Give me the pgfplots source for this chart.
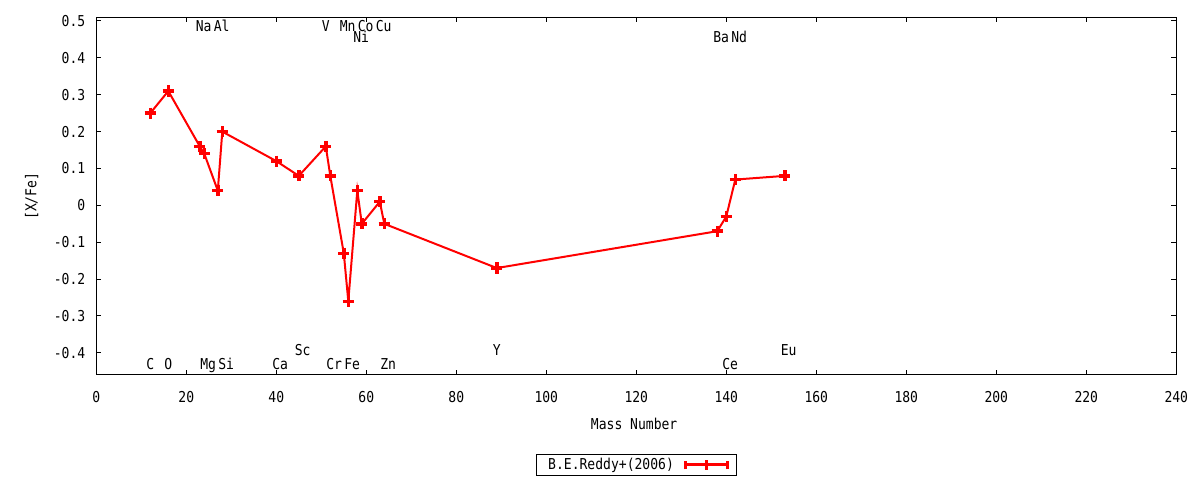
\documentclass[border=0pt]{standalone}
\usepackage{fontspec}
\setmainfont{DejaVu Sans Mono}[FakeStretch=0.87]
\usepackage{pgfplots}
\pgfplotsset{compat=1.18}

\tikzset{
  lbl/.style={anchor=base west, inner sep=0pt, xshift=-2.2pt},
}

\begin{document}
\begin{tikzpicture}[font=\fontsize{7.5}{9}\selectfont]
\useasboundingbox (0,0) rectangle (600pt,240pt);
\begin{axis}[
  at={(48.15pt,52.5pt)}, anchor=south west,
  scale only axis,
  width=540pt, height=178.85pt,
  xmin=0, xmax=240, ymin=-0.46, ymax=0.51,
  xtick={0,20,...,240},
  ytick={-0.4,-0.3,-0.2,-0.1,0,0.1,0.2,0.3,0.4,0.5},
  axis line style={line width=0.5pt},
  every tick/.style={black, line width=0.5pt},
  major tick length=2.5pt,
  tick align=inside,
  /pgf/number format/assume math mode=true,
  /pgf/number format/fixed,
  /pgf/number format/precision=1,
  xticklabel style={yshift=-4.75pt},
  yticklabel style={xshift=-2pt},
  xlabel={Mass Number},
  ylabel={[X/Fe]},
  xlabel style={at={(axis description cs:0.498,0)}, anchor=center, yshift=-24.7pt},
  ylabel style={at={(axis description cs:0,0.5)}, anchor=center, yshift=32.3pt},
  legend plot pos=right,
  legend style={at={(axis description cs:0.5,-0.2516)}, anchor=center,
    draw=black, line width=0.5pt, inner xsep=3.5pt, inner ysep=0.5pt,
    nodes={inner sep=1pt}},
  legend image code/.code={
    \path (0pt,0pt);
    \draw[line width=1.5pt] (4.5pt,0pt) -- (25.5pt,0pt);
    \draw[line width=1.5pt] (4.5pt,-2.2pt) -- (4.5pt,2.2pt);
    \draw[line width=1.5pt] (25.5pt,-2.2pt) -- (25.5pt,2.2pt);
    \draw[line width=1.5pt] (15pt,-2.5pt) -- (15pt,2.5pt);
  },
  clip=false,
]
\addplot[red, line width=1pt, mark=+, mark size=2.8pt,
  mark options={line width=1.7pt, solid}] coordinates {
  (12,0.25) (16,0.31) (23,0.16) (24,0.14) (27,0.04) (28,0.20)
  (40,0.12) (45,0.08) (51,0.16) (52,0.08) (55,-0.13) (56,-0.26)
  (58,0.04) (59,-0.05) (63,0.01) (64,-0.05) (89,-0.17)
  (138,-0.07) (140,-0.03) (142,0.07) (153,0.08)
};
\addlegendentry{\hspace{1.5pt}B.E.Reddy+(2006)}

% element names
\node[lbl] at (axis cs:23,0.4707) {Na};
\node[lbl] at (axis cs:27,0.4707) {Al};
\node[lbl] at (axis cs:51,0.4707) {V};
\node[lbl] at (axis cs:55,0.4707) {Mn};
\node[lbl] at (axis cs:59,0.4707) {Co};
\node[lbl] at (axis cs:63,0.4707) {Cu};
\node[lbl] at (axis cs:58,0.443) {Ni};
\node[lbl] at (axis cs:138,0.443) {Ba};
\node[lbl] at (axis cs:142,0.443) {Nd};
\node[lbl] at (axis cs:12,-0.444) {C};
\node[lbl] at (axis cs:16,-0.444) {O};
\node[lbl] at (axis cs:24,-0.444) {Mg};
\node[lbl] at (axis cs:28,-0.444) {Si};
\node[lbl] at (axis cs:40,-0.444) {Ca};
\node[lbl] at (axis cs:52,-0.444) {Cr};
\node[lbl] at (axis cs:56,-0.444) {Fe};
\node[lbl] at (axis cs:64,-0.444) {Zn};
\node[lbl] at (axis cs:140,-0.444) {Ce};
\node[lbl] at (axis cs:45,-0.406) {Sc};
\node[lbl] at (axis cs:89,-0.406) {Y};
\node[lbl] at (axis cs:153,-0.406) {Eu};
\end{axis}
\end{tikzpicture}
\end{document}
